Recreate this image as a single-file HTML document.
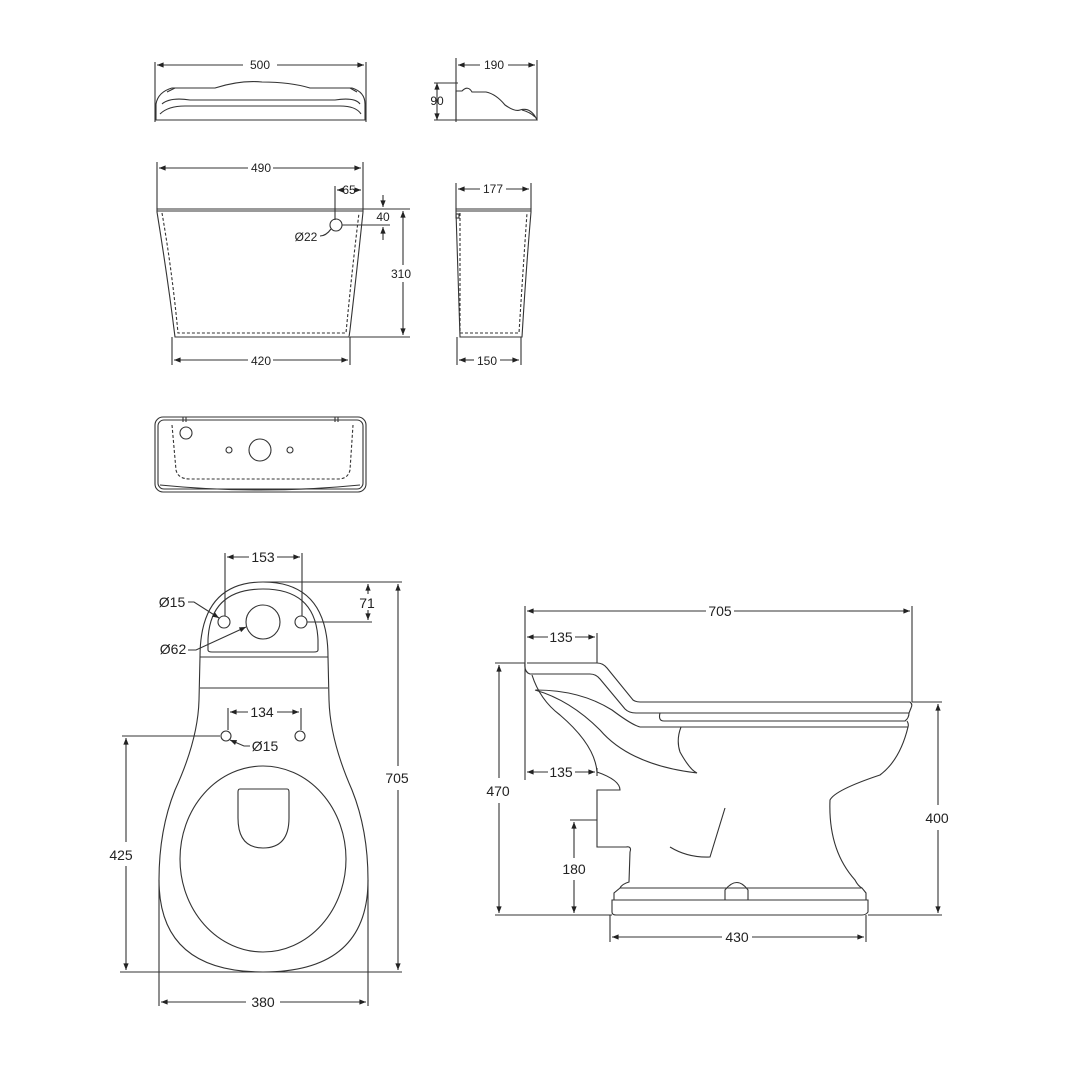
<!DOCTYPE html>
<html><head><meta charset="utf-8"><style>
html,body{margin:0;padding:0;background:#fff}
svg{display:block}
text{font-family:"Liberation Sans",sans-serif;fill:#222}
</style></head><body>
<svg width="1066" height="1066" viewBox="0 0 1066 1066" xmlns="http://www.w3.org/2000/svg">
<defs>
<marker id="a" viewBox="0 0 10 10" refX="10" refY="5" markerWidth="8" markerHeight="6" orient="auto-start-reverse"><path d="M0,1 L10,5 L0,9z" fill="#222"/></marker>
</defs>
<g fill="none" stroke="#333" stroke-width="1.1">
<!-- Lid front -->
<line x1="155" y1="62" x2="155" y2="122"/><line x1="366" y1="62" x2="366" y2="122"/>
<line x1="157" y1="65" x2="243" y2="65" marker-start="url(#a)"/><line x1="277" y1="65" x2="364" y2="65" marker-end="url(#a)"/>
<path d="M156,120 L156,104 Q158,92 172,88 Q200,88 215,88 Q240,80 262,82 Q290,82 310,88 L352,88 Q365,92 365,104 L365,120 Z"/>
<path d="M162,104 Q170,97 190,100 L335,100 Q355,97 360,104"/>
<path d="M160,114 Q168,106 185,106 L340,106 Q356,106 361,114"/>
<path d="M167,92 L175,88 M350,88 L357,92"/>
<!-- Lid side -->
<line x1="456" y1="58" x2="456" y2="122"/><line x1="537" y1="60" x2="537" y2="120"/>
<line x1="458" y1="65" x2="480" y2="65" marker-start="url(#a)"/><line x1="508" y1="65" x2="535" y2="65" marker-end="url(#a)"/>
<line x1="437" y1="83" x2="437" y2="120" marker-start="url(#a)" marker-end="url(#a)"/>
<line x1="434" y1="83" x2="458" y2="83"/><line x1="434" y1="120" x2="456" y2="120"/>
<path d="M456,120 L456,91 L462,91 Q468,85 472,92 L486,92 Q496,94 505,105 Q515,112 520,110 Q530,107 536,118 L537,120 Z"/>
<path d="M522,110 Q530,112 535,117"/>
<!-- Tank front -->
<line x1="157" y1="162" x2="157" y2="209"/><line x1="363" y1="162" x2="363" y2="209"/>
<line x1="159" y1="168" x2="248" y2="168" marker-start="url(#a)"/><line x1="273" y1="168" x2="361" y2="168" marker-end="url(#a)"/>
<line x1="335" y1="186" x2="335" y2="220"/>
<line x1="337" y1="190" x2="340" y2="190" marker-start="url(#a)"/><line x1="356" y1="190" x2="361" y2="190" marker-end="url(#a)"/>
<path d="M157,209 L363,209 L363,212 Q357,270 350,330 L349,337 L175,337 Q168,280 157,212 Z"/>
<path d="M162,213 Q172,270 178,333 L346,333 Q352,270 359,213" stroke-dasharray="3,2"/>
<line x1="157" y1="211" x2="363" y2="211"/>
<circle cx="336" cy="225" r="6"/>
<line x1="342" y1="225" x2="390" y2="225"/><line x1="363" y1="209" x2="410" y2="209"/><line x1="350" y1="337" x2="410" y2="337"/>
<line x1="383" y1="195" x2="383" y2="207" marker-end="url(#a)"/><line x1="383" y1="240" x2="383" y2="227" marker-end="url(#a)"/>
<line x1="403" y1="211" x2="403" y2="265" marker-start="url(#a)"/><line x1="403" y1="282" x2="403" y2="335" marker-end="url(#a)"/>
<path d="M320,236 Q326,236 331,229"/>
<line x1="172" y1="337" x2="172" y2="365"/><line x1="350" y1="337" x2="350" y2="365"/>
<line x1="174" y1="360" x2="248" y2="360" marker-start="url(#a)"/><line x1="273" y1="360" x2="348" y2="360" marker-end="url(#a)"/>
<!-- Tank side -->
<line x1="456" y1="183" x2="456" y2="209"/><line x1="531" y1="183" x2="531" y2="209"/>
<line x1="458" y1="189" x2="480" y2="189" marker-start="url(#a)"/><line x1="506" y1="189" x2="529" y2="189" marker-end="url(#a)"/>
<path d="M456,209 L531,209 L531,212 Q526,270 522,337 L460,337 Q458,280 456,212 Z"/>
<path d="M460,213 L460,333 L519,333 Q523,270 527,213" stroke-dasharray="3,2"/>
<line x1="456" y1="211" x2="531" y2="211"/>
<rect x="456" y="214" width="3" height="4"/>
<line x1="457" y1="337" x2="457" y2="365"/><line x1="521" y1="337" x2="521" y2="365"/>
<line x1="459" y1="360" x2="474" y2="360" marker-start="url(#a)"/><line x1="500" y1="360" x2="519" y2="360" marker-end="url(#a)"/>
<!-- Tank plan -->
<rect x="155" y="417" width="211" height="75" rx="8"/>
<rect x="158" y="420" width="205" height="69" rx="6"/>
<path d="M172,425 L176,470 Q178,479 190,479 L338,479 Q348,479 350,470 L353,425" stroke-dasharray="3,2"/>
<path d="M160,485 Q260,495 360,485"/>
<line x1="183" y1="417" x2="183" y2="422"/><line x1="186" y1="417" x2="186" y2="422"/>
<line x1="335" y1="417" x2="335" y2="422"/><line x1="338" y1="417" x2="338" y2="422"/>
<circle cx="186" cy="433" r="6"/><circle cx="260" cy="450" r="11"/><circle cx="229" cy="450" r="3"/><circle cx="290" cy="450" r="3"/>
<!-- Plan view bowl -->
<path d="M263,582 Q328,582 328,657 L329,700 Q330,740 352,790 Q368,830 368,880 Q368,972 263,972 Q159,972 159,880 Q159,830 175,790 Q198,740 199,700 L200,657 Q200,582 263,582 Z"/>
<path d="M263,589 Q316,589 318,640 L318,650 Q318,652 314,652 L212,652 Q208,652 208,650 L208,640 Q210,589 263,589 Z"/>
<line x1="200" y1="657" x2="328" y2="657"/><line x1="200" y1="688" x2="328" y2="688"/>
<ellipse cx="263" cy="859" rx="83" ry="93"/>
<path d="M240,789 L287,789 Q289,789 289,792 L289,818 Q289,848 263,848 Q238,848 238,818 L238,792 Q238,789 240,789 Z"/>
<circle cx="224" cy="622" r="6"/><circle cx="301" cy="622" r="6"/><circle cx="263" cy="622" r="17"/>
<circle cx="226" cy="736" r="5"/><circle cx="300" cy="736" r="5"/>
<line x1="225" y1="553" x2="225" y2="616"/><line x1="302" y1="553" x2="302" y2="616"/>
<line x1="227" y1="557" x2="249" y2="557" marker-start="url(#a)"/><line x1="277" y1="557" x2="300" y2="557" marker-end="url(#a)"/>
<line x1="263" y1="582" x2="402" y2="582"/><line x1="307" y1="622" x2="372" y2="622"/>
<line x1="368" y1="584" x2="368" y2="594" marker-start="url(#a)"/><line x1="368" y1="610" x2="368" y2="620" marker-end="url(#a)"/>
<line x1="398" y1="584" x2="398" y2="766" marker-start="url(#a)"/><line x1="398" y1="790" x2="398" y2="970" marker-end="url(#a)"/>
<line x1="120" y1="972" x2="402" y2="972"/>
<path d="M188,602 L194,602 L219,618" marker-end="url(#a)"/>
<path d="M188,650 L196,650 L246,627" marker-end="url(#a)"/>
<line x1="228" y1="708" x2="228" y2="730"/><line x1="301" y1="708" x2="301" y2="730"/>
<line x1="230" y1="712" x2="248" y2="712" marker-start="url(#a)"/><line x1="277" y1="712" x2="299" y2="712" marker-end="url(#a)"/>
<line x1="122" y1="736" x2="220" y2="736"/>
<path d="M250,746 L244,746 L230,740" marker-end="url(#a)"/>
<line x1="126" y1="738" x2="126" y2="842" marker-start="url(#a)"/><line x1="126" y1="866" x2="126" y2="970" marker-end="url(#a)"/>
<line x1="159" y1="880" x2="159" y2="1006"/><line x1="368" y1="880" x2="368" y2="1006"/>
<line x1="161" y1="1002" x2="246" y2="1002" marker-start="url(#a)"/><line x1="280" y1="1002" x2="366" y2="1002" marker-end="url(#a)"/>
<!-- Side view -->
<line x1="525" y1="606" x2="525" y2="780"/><line x1="912" y1="606" x2="912" y2="702"/>
<line x1="527" y1="611" x2="706" y2="611" marker-start="url(#a)"/><line x1="734" y1="611" x2="910" y2="611" marker-end="url(#a)"/>
<line x1="597" y1="633" x2="597" y2="663"/>
<line x1="527" y1="637" x2="548" y2="637" marker-start="url(#a)"/><line x1="575" y1="637" x2="595" y2="637" marker-end="url(#a)"/>
<path d="M527,663 L597,663 Q603,663 607,668 L633,700 Q636,702 640,702 L910,702 Q913,704 911,708 L909,713"/>
<path d="M525,663 Q524,672 530,674 L590,674 Q596,674 600,679 L625,709 Q629,713 636,713 L909,713"/>
<path d="M660,713 Q658,721 664,721 L905,721 Q909,718 909,713"/>
<path d="M640,727 L908,727 Q909,724 907,721"/>
<path d="M532,675 Q540,700 560,715 Q595,745 597,772"/>
<path d="M536,690 Q580,690 612,710 Q632,725 640,727"/>
<path d="M535,690 Q570,700 600,730 Q630,765 697,773 Q690,770 680,752 Q676,740 681,727"/>
<path d="M597,772 Q620,780 620,790 L597,790 L597,847 L626,847 Q632,846 630,852 L629,882 Q622,884 620,888"/>
<path d="M908,727 Q900,760 880,775 Q835,790 830,800 Q828,850 855,880 Q858,886 862,888"/>
<path d="M670,847 Q688,858 710,857 L725,808"/>
<path d="M620,888 L862,888 L866,893 L866,900 L614,900 L614,893 Z"/>
<path d="M612,900 L868,900 L868,912 Q866,915 862,915 L616,915 Q612,915 612,912 Z"/>
<path d="M725,900 L725,890 Q737,875 748,890 L748,900"/>
<line x1="495" y1="663" x2="525" y2="663"/><line x1="495" y1="915" x2="612" y2="915"/>
<line x1="499" y1="665" x2="499" y2="778" marker-start="url(#a)"/><line x1="499" y1="803" x2="499" y2="913" marker-end="url(#a)"/>
<line x1="912" y1="702" x2="942" y2="702"/><line x1="868" y1="915" x2="942" y2="915"/>
<line x1="938" y1="704" x2="938" y2="805" marker-start="url(#a)"/><line x1="938" y1="830" x2="938" y2="913" marker-end="url(#a)"/>
<line x1="597" y1="768" x2="597" y2="776"/>
<line x1="527" y1="772" x2="548" y2="772" marker-start="url(#a)"/><line x1="575" y1="772" x2="595" y2="772" marker-end="url(#a)"/>
<line x1="570" y1="820" x2="597" y2="820"/>
<line x1="574" y1="822" x2="574" y2="858" marker-start="url(#a)"/><line x1="574" y1="880" x2="574" y2="913" marker-end="url(#a)"/>
<line x1="610" y1="915" x2="610" y2="942"/><line x1="866" y1="915" x2="866" y2="942"/>
<line x1="612" y1="937" x2="722" y2="937" marker-start="url(#a)"/><line x1="752" y1="937" x2="864" y2="937" marker-end="url(#a)"/>
</g>
<g font-size="12" text-anchor="middle">
<text x="260" y="69">500</text><text x="494" y="69">190</text><text x="437" y="105">90</text>
<text x="261" y="172">490</text><text x="349" y="194">65</text><text x="383" y="221">40</text>
<text x="306" y="241">Ø22</text><text x="401" y="278">310</text><text x="261" y="365">420</text>
<text x="493" y="193">177</text><text x="487" y="365">150</text>
</g>
<g font-size="14" text-anchor="middle">
<text x="263" y="562">153</text><text x="172" y="607">Ø15</text><text x="367" y="608">71</text>
<text x="173" y="654">Ø62</text><text x="262" y="717">134</text><text x="265" y="751">Ø15</text>
<text x="397" y="783">705</text><text x="121" y="860">425</text><text x="263" y="1007">380</text>
<text x="720" y="616">705</text><text x="561" y="642">135</text><text x="498" y="796">470</text>
<text x="561" y="777">135</text><text x="574" y="874">180</text><text x="937" y="823">400</text>
<text x="737" y="942">430</text>
</g>
</svg>
</body></html>
